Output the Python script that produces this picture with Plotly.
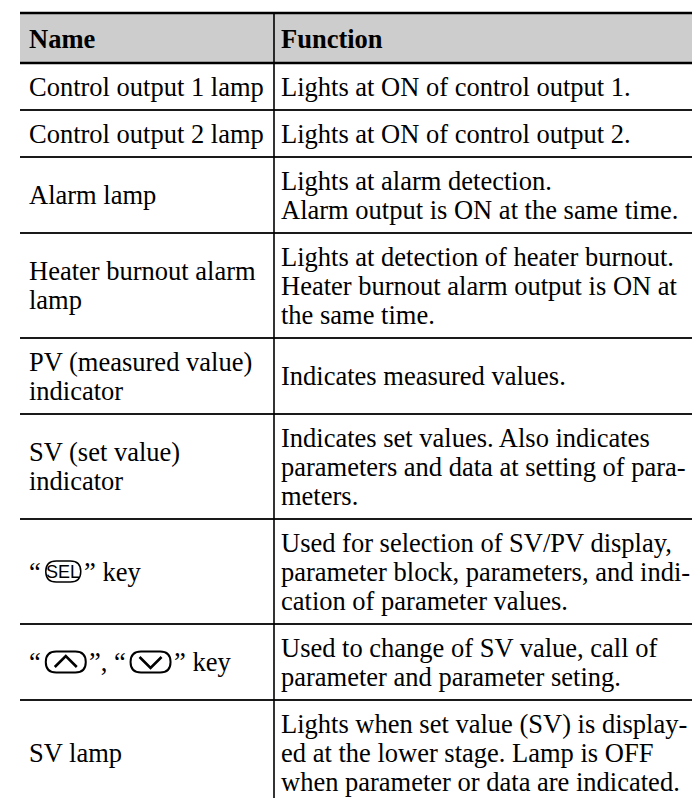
import plotly.graph_objects as go

# ---------------- data ----------------
header = ["Name", "Function"]

names = [
    ["Control output 1 lamp"],
    ["Control output 2 lamp"],
    ["Alarm lamp"],
    ["Heater burnout alarm", "lamp"],
    ["PV (measured value)", "indicator"],
    ["SV (set value)", "indicator"],
    ["“SEL” key"],
    ["“UP”, “DOWN” key"],
    ["SV lamp"],
]

# rows whose name contains key icons: list of (kind, value) pieces
key_names = {
    6: [("text", "“"), ("key", "SEL"), ("text", "” key")],
    7: [("text", "“"), ("key", "up"), ("text", "”, “"), ("key", "down"), ("text", "” key")],
}

functions = [
    ["Lights at ON of control output 1."],
    ["Lights at ON of control output 2."],
    ["Lights at alarm detection.", "Alarm output is ON at the same time."],
    ["Lights at detection of heater burnout.", "Heater burnout alarm output is ON at", "the same time."],
    ["Indicates measured values."],
    ["Indicates set values. Also indicates", "parameters and data at setting of para-", "meters."],
    ["Used for selection of SV/PV display,", "parameter block, parameters, and indi-", "cation of parameter values."],
    ["Used to change of SV value, call of", "parameter and parameter seting."],
    ["Lights when set value (SV) is display-", "ed at the lower stage. Lamp is OFF", "when parameter or data are indicated."],
]

# ---------------- layout constants ----------------
W, H = 700, 798
X_LEFT, X_DIV, X_RIGHT = 12, 266, 685
TOP, HEAD_BOTTOM = 5, 55
LINE = 29          # line spacing
PAD = 18           # vertical padding per row
FONT = "Liberation Serif, Times New Roman, serif"
FSIZE = 26.5
TXT = "#000000"
NAME_X = X_LEFT + 7
FUNC_X = X_DIV + 5
# approximate advance widths (em) of the quote pieces in Times
EM = {"“": 0.444, "”, “": 1.388}

fig = go.Figure()
shapes = []
annotations = []


def add_text(x, y, s, bold=False, size=FSIZE, family=FONT):
    annotations.append(dict(
        x=x, y=y, xref="x", yref="y", text=(f"<b>{s}</b>" if bold else s),
        showarrow=False, xanchor="left", yanchor="middle",
        font=dict(family=family, size=size, color=TXT),
    ))


# header
shapes.append(dict(type="rect", x0=X_LEFT, x1=X_RIGHT, y0=TOP, y1=HEAD_BOTTOM,
                   fillcolor="#cdcdcd", line=dict(width=0), layer="below"))
hy = (TOP + HEAD_BOTTOM) / 2 + 1
add_text(NAME_X, hy, header[0], bold=True)
add_text(FUNC_X, hy, header[1], bold=True)

# rows
row_tops = [HEAD_BOTTOM]
for i in range(len(names)):
    n = max(len(names[i]), len(functions[i]))
    row_tops.append(row_tops[-1] + PAD + n * LINE)


def draw_key(kind, x0, yc):
    w = 35 if kind == "SEL" else 40
    h = 21
    r = h / 2
    x1 = x0 + w
    y0, y1 = yc - h / 2, yc + h / 2
    path = (f"M {x0 + r},{y0} L {x1 - r},{y0} "
            f"Q {x1},{y0} {x1},{yc} Q {x1},{y1} {x1 - r},{y1} "
            f"L {x0 + r},{y1} Q {x0},{y1} {x0},{yc} Q {x0},{y0} {x0 + r},{y0} Z")
    lw = 1.5 if kind == "SEL" else 2.0
    shapes.append(dict(type="path", path=path, line=dict(color=TXT, width=lw)))
    cx = (x0 + x1) / 2
    if kind == "SEL":
        annotations.append(dict(x=cx, y=yc + 0.5, xref="x", yref="y", text="SEL", showarrow=False,
                                xanchor="center", yanchor="middle",
                                font=dict(family="Liberation Sans, Arial, sans-serif", size=18, color=TXT)))
    elif kind == "up":
        shapes.append(dict(type="path", path=f"M {cx - 11},{yc + 5} L {cx},{yc - 6} L {cx + 11},{yc + 5}",
                           line=dict(color=TXT, width=2.6)))
    else:
        shapes.append(dict(type="path", path=f"M {cx - 11},{yc - 5} L {cx},{yc + 6} L {cx + 11},{yc - 5}",
                           line=dict(color=TXT, width=2.6)))
    return x1


for i in range(len(names)):
    y0, y1 = row_tops[i], row_tops[i + 1]
    yc = (y0 + y1) / 2
    # name column
    if i in key_names:
        x = NAME_X
        for kind, val in key_names[i]:
            if kind == "text":
                add_text(x, yc, val)
                x += EM.get(val, 0) * FSIZE + 2
            else:
                x = draw_key(val, x + 5, yc) + 1
    else:
        k = len(names[i])
        for j, s in enumerate(names[i]):
            add_text(NAME_X, yc - (k - 1) * LINE / 2 + j * LINE, s)
    # function column
    k = len(functions[i])
    for j, s in enumerate(functions[i]):
        add_text(FUNC_X, yc - (k - 1) * LINE / 2 + j * LINE, s)
    # bottom rule of the row (last row runs off the page)
    if i < len(names) - 1:
        shapes.append(dict(type="line", x0=X_LEFT, x1=X_RIGHT, y0=y1, y1=y1,
                           line=dict(color="#1a1a1a", width=1.8)))

# thick header rules
for yy in (TOP, HEAD_BOTTOM):
    shapes.append(dict(type="line", x0=X_LEFT, x1=X_RIGHT, y0=yy, y1=yy,
                       line=dict(color=TXT, width=2.6)))
# column divider
shapes.append(dict(type="line", x0=X_DIV, x1=X_DIV, y0=TOP, y1=H,
                   line=dict(color=TXT, width=1.6)))

fig.update_layout(
    width=W, height=H, margin=dict(l=0, r=0, t=0, b=0),
    paper_bgcolor="white", plot_bgcolor="white",
    xaxis=dict(range=[0, W], visible=False, fixedrange=True),
    yaxis=dict(range=[H, 0], visible=False, fixedrange=True),
    shapes=shapes, annotations=annotations, showlegend=False,
)

fig.write_html("out.html")
